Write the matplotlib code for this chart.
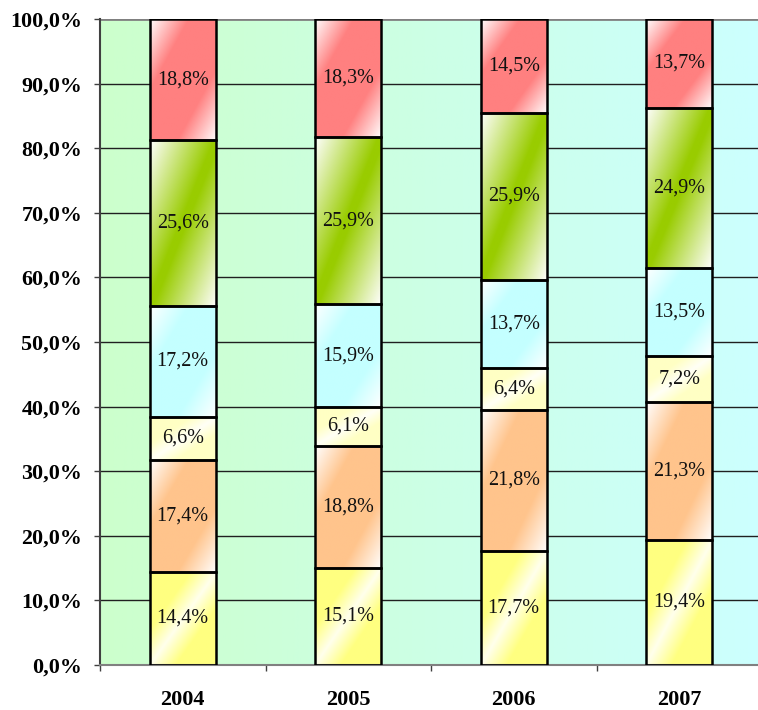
import numpy as np
import matplotlib
matplotlib.use("Agg")
import matplotlib.pyplot as plt
from matplotlib.colors import to_rgb

years = ["2004", "2005", "2006", "2007"]
seg1 = [14.4, 15.1, 17.7, 19.4]   # yellow (bottom)
seg2 = [17.4, 18.8, 21.8, 21.3]   # orange
seg3 = [6.6, 6.1, 6.4, 7.2]       # light yellow
seg4 = [17.2, 15.9, 13.7, 13.5]   # cyan
seg5 = [25.6, 25.9, 25.9, 24.9]   # green
seg6 = [18.8, 18.3, 14.5, 13.7]   # red (top)
yticks = [0, 10, 20, 30, 40, 50, 60, 70, 80, 90, 100]
ytick_labels = ["0,0%", "10,0%", "20,0%", "30,0%", "40,0%", "50,0%",
                "60,0%", "70,0%", "80,0%", "90,0%", "100,0%"]

series = [seg1, seg2, seg3, seg4, seg5, seg6]
colors = ["#FFFF80", "#FFC48C", "#FFFFC4", "#C4FFFF", "#99CC00", "#FF8080"]
inverted = [True, False, True, False, False, False]
gains = [2.2, 1.7, 2.2, 1.7, 1.05, 1.7]
floors = [0.15, 0.0, 0.15, 0.0, 0.0, 0.0]

W, H = 758, 710
fig = plt.figure(figsize=(W / 100, H / 100), dpi=100)
ax = fig.add_axes([100 / W, 45 / H, 662 / W, 646 / H])

# background gradient
bg = np.zeros((2, 256, 3))
c0 = np.array(to_rgb("#CCFFCC"))
c1 = np.array(to_rgb("#CCFFFF"))
t = np.linspace(0, 1, 256)
bg[:, :, :] = c0[None, None, :] * (1 - t)[None, :, None] + c1[None, None, :] * t[None, :, None]
ax.imshow(bg, extent=[0, 1, 0, 1], transform=ax.transAxes, aspect="auto",
          origin="lower", zorder=0.1)

data = np.array(series, dtype=float)
totals = data.sum(axis=0)
norm = data / totals * 100
x = np.arange(len(years))
bottoms = np.zeros(len(years))

def gradient_img(color, inv, gain, floor, n=160):
    u = np.linspace(0, 1, n)[None, :]            # 0 = left, 1 = right
    yb = np.linspace(0, 1, n)[:, None]           # 0 = bottom, 1 = top
    d = 1 - yb                                   # 0 = top, 1 = bottom
    s = (u + d) / 2                              # 0 = top-left, 1 = bottom-right
    k = 1 - np.abs(2 * s - 1)
    if inv:
        k = 1 - k
    k = np.clip(floor + k * gain, 0, 1)
    c = np.array(to_rgb(color))
    return 1 - k[:, :, None] * (1 - c[None, None, :])

for i, (vals, nvals) in enumerate(zip(series, norm)):
    bars = ax.bar(x, nvals, width=0.4, bottom=bottoms, facecolor="none",
                  edgecolor="black", linewidth=1.8, zorder=3)
    for j, p in enumerate(bars):
        px, py = p.get_x(), p.get_y()
        pw, ph = p.get_width(), p.get_height()
        im = ax.imshow(gradient_img(colors[i], inverted[i], gains[i], floors[i]),
                       origin="lower", extent=[px, px + pw, py, py + ph],
                       aspect="auto", interpolation="bilinear", zorder=2)
        im.set_clip_path(p)
        ax.text(px + pw / 2, py + ph / 2, f"{vals[j]:.1f}".replace(".", ",") + "%",
                ha="center", va="center", fontsize=14.5, family="Liberation Serif",
                color="#111111", zorder=4)
    bottoms = bottoms + nvals

ax.set_xlim(-0.5, 3.5)
ax.set_ylim(0, 100)
ax.set_yticks(yticks)
ax.set_yticklabels(ytick_labels, fontsize=15.8, family="Liberation Serif", fontweight="bold")
ax.set_xticks(x)
ax.set_xticklabels(years, fontsize=16, family="Liberation Serif", fontweight="bold")
ax.set_xticks(np.arange(-0.5, 4.0, 1.0), minor=True)
ax.tick_params(axis="x", which="major", length=0, pad=18)
ax.tick_params(axis="x", which="minor", length=4.3, width=1, color="#404040")
ax.tick_params(axis="y", length=4.3, width=1, color="#404040", pad=8.5)
ax.grid(axis="y", color="#202020", linewidth=1)
ax.get_ygridlines()[-1].set_color("#808080")
ax.get_ygridlines()[-1].set_linewidth(2)
ax.set_axisbelow(True)
for side in ["top", "right"]:
    ax.spines[side].set_visible(False)
ax.spines["left"].set_color("#404040")
ax.spines["left"].set_linewidth(1.5)
ax.spines["bottom"].set_color("#808080")
ax.spines["bottom"].set_linewidth(1.5)

fig.savefig("out.png", dpi=100)
